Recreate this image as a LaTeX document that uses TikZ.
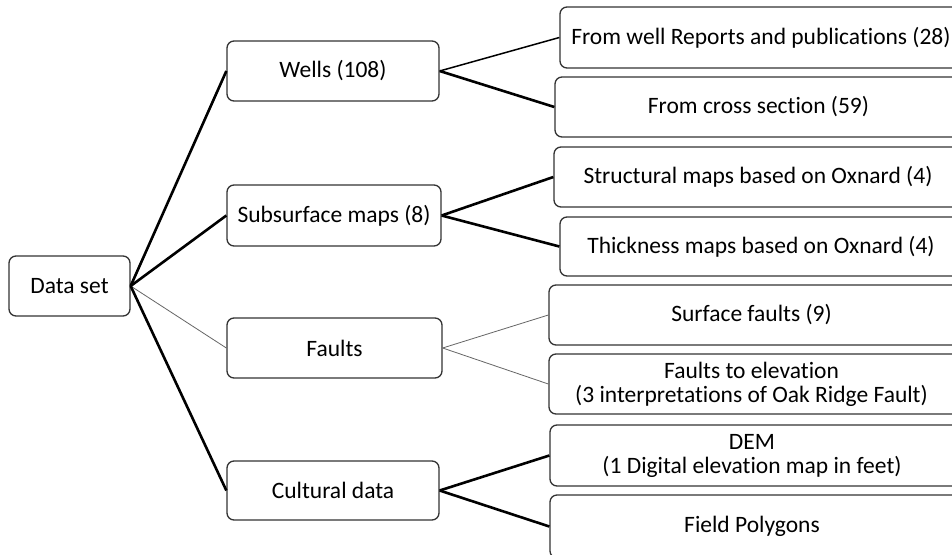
\documentclass[tikz,border=0pt]{standalone}
\usepackage{fontspec}
\setmainfont{Carlito}[Ligatures=NoCommon]
\newcommand{\rpad}{\hspace*{10pt}}
\begin{document}
\begin{tikzpicture}[x=1pt,y=-1pt,
  box/.style={draw=black!80,line width=1.3pt,rounded corners=7pt,rectangle,inner sep=0pt,align=center,
    font=\fontsize{23.5}{24}\selectfont},
  thickc/.style={line width=2.6pt,black},
  midc/.style={line width=1.5pt,black},
  thinc/.style={line width=0.8pt,black!60}]
\clip (0,0) rectangle (952,554);
\fill[white] (0,0) rectangle (952,554);
\node[box,minimum width=121pt,minimum height=60pt] (ds) at (69.5,286) {Data set};
\node[box,minimum width=212pt,minimum height=60pt] (wells) at (333,71) {Wells (108)};
\node[box,minimum width=214pt,minimum height=61pt] (sub) at (334,215.5) {Subsurface maps (8)};
\node[box,minimum width=215pt,minimum height=60pt] (faults) at (334.5,348) {Faults};
\node[box,minimum width=212pt,minimum height=59pt] (cult) at (333,490.5) {Cultural data};
\node[box,minimum width=412pt,minimum height=61pt] (r1) at (766,37.5) {From well Reports and publications (28)\rpad};
\node[box,minimum width=417pt,minimum height=60pt] (r2) at (763.5,107) {From cross section (59)\rpad};
\node[box,minimum width=418pt,minimum height=60pt] (r3) at (763,177) {Structural maps based on Oxnard (4)\rpad};
\node[box,minimum width=412pt,minimum height=59pt] (r4) at (766,246.5) {Thickness maps based on Oxnard (4)\rpad};
\node[box,minimum width=415pt,minimum height=60pt] (r5) at (756.5,315) {Surface faults (9)\rpad};
\node[box,minimum width=415pt,minimum height=60pt] (r6) at (756.5,384) {Faults to elevation\rpad\\(3 interpretations of Oak Ridge Fault)\rpad};
\node[box,minimum width=414pt,minimum height=61pt] (r7) at (757,455.5) {DEM\rpad\\(1 Digital elevation map in feet)\rpad};
\node[box,minimum width=414pt,minimum height=63pt] (r8) at (757,526.5) {Field Polygons\rpad};
\draw[thickc] (ds.east) -- (wells.west);
\draw[thickc] (ds.east) -- (sub.west);
\draw[thinc] (ds.east) -- (faults.west);
\draw[thickc] (ds.east) -- (cult.west);
\draw[midc] (wells.east) -- (r1.west);
\draw[thickc] (wells.east) -- (r2.west);
\draw[thickc] (sub.east) -- (r3.west);
\draw[thickc] (sub.east) -- (r4.west);
\draw[thinc] (faults.east) -- (r5.west);
\draw[thinc] (faults.east) -- (r6.west);
\draw[thickc] (cult.east) -- (r7.west);
\draw[thickc] (cult.east) -- (r8.west);
\end{tikzpicture}
\end{document}
